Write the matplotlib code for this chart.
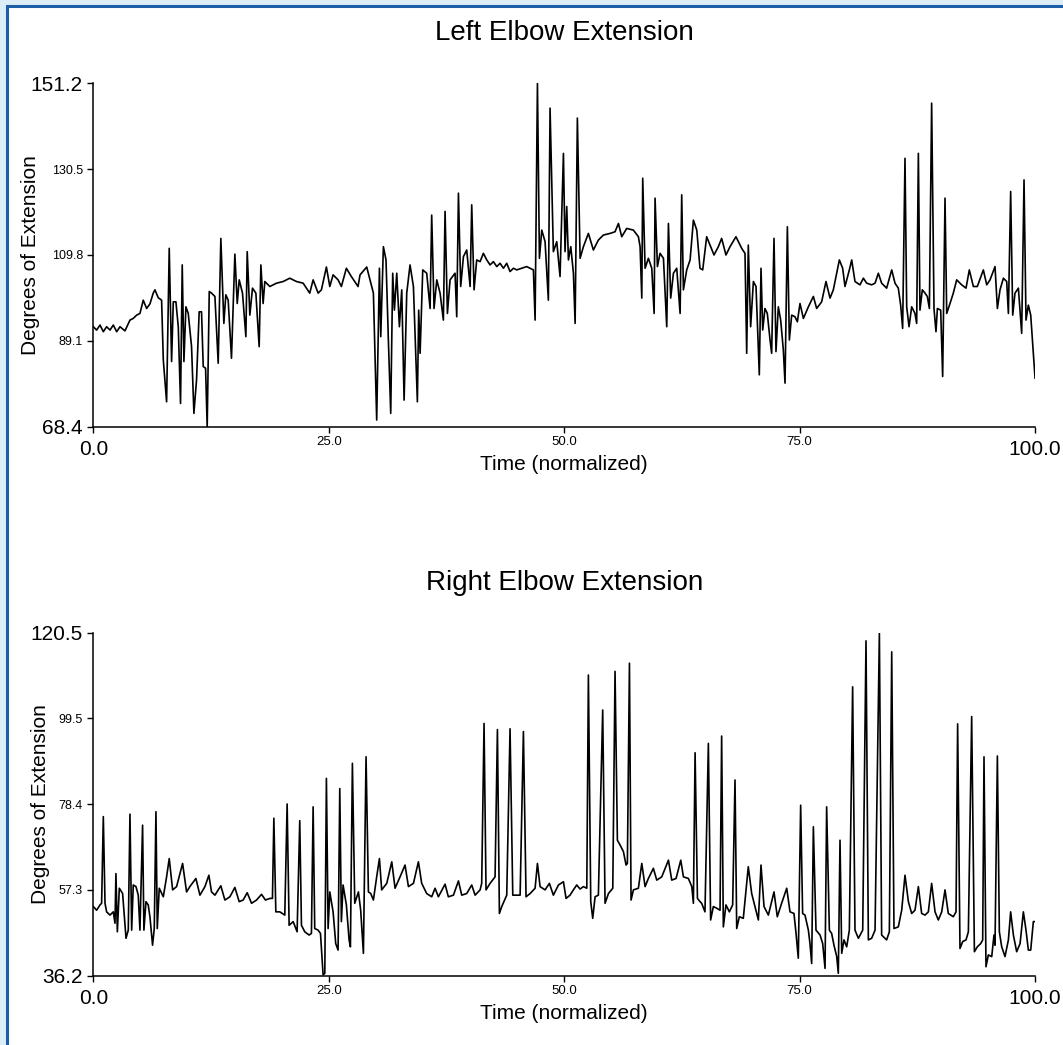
import matplotlib
matplotlib.use("Agg")
import matplotlib.pyplot as plt
from matplotlib.patches import Rectangle
from matplotlib.transforms import ScaledTranslation

plt.rcParams['font.family'] = ['Liberation Sans', 'DejaVu Sans']

# Left elbow: time (normalized) and degrees
left_t = [0, 0.35, 0.71, 1.06, 1.41, 1.77, 2.12, 2.48, 2.83, 3.36, 3.89, 4.24, 4.6, 4.95, 5.3, 5.66,
          6.01, 6.36, 6.54, 6.89, 7.25, 7.43, 7.78, 8.06, 8.31, 8.49, 8.77, 9.02, 9.26, 9.44, 9.62,
          9.83, 10.08, 10.43, 10.68, 10.96, 11.24, 11.49, 11.67, 11.92, 12.09, 12.31, 12.55, 12.91,
          13.26, 13.54, 13.86, 14.07, 14.32, 14.67, 15.03, 15.28, 15.49, 15.84, 16.2, 16.34, 16.62,
          16.9, 17.26, 17.61, 17.79, 18.03, 18.21, 18.74, 19.45, 20.16, 20.86, 21.57, 22.28, 22.98,
          23.34, 23.87, 24.22, 24.75, 25.11, 25.46, 25.99, 26.34, 26.87, 27.4, 28.11, 28.32, 29.03,
          29.56, 29.74, 30.09, 30.38, 30.52, 30.8, 31.08, 31.33, 31.58, 31.79, 31.97, 32.22, 32.5,
          32.75, 33.0, 33.28, 33.63, 33.99, 34.41, 34.55, 34.7, 34.98, 35.4, 35.76, 35.93, 36.18,
          36.47, 36.82, 37.17, 37.35, 37.6, 37.88, 38.41, 38.59, 38.77, 39.01, 39.3, 39.65, 40.01,
          40.18, 40.43, 40.71, 41.07, 41.42, 41.78, 42.13, 42.48, 42.84, 43.19, 43.55, 43.9, 44.25,
          44.61, 44.96, 45.49, 46.02, 46.73, 46.91, 47.16, 47.37, 47.62, 47.97, 48.32, 48.5, 48.85,
          49.21, 49.56, 49.92, 50.09, 50.27, 50.45, 50.7, 50.98, 51.16, 51.4, 51.69, 52.04, 52.57,
          53.1, 53.63, 54.16, 54.87, 55.4, 55.76, 56.11, 56.64, 57.35, 57.88, 58.06, 58.24, 58.34,
          58.59, 58.94, 59.3, 59.55, 59.65, 59.9, 60.18, 60.54, 60.89, 61.07, 61.31, 61.6, 61.95,
          62.31, 62.48, 62.66, 63.01, 63.37, 63.72, 64.08, 64.24, 64.42, 64.71, 65.13, 65.48, 65.91,
          66.37, 66.72, 67.18, 67.61, 68.24, 68.85, 69.2, 69.38, 69.55, 69.8, 70.09, 70.37, 70.72,
          70.9, 71.08, 71.32, 71.57, 71.86, 72.03, 72.28, 72.49, 72.74, 72.99, 73.27, 73.45, 73.7,
          73.91, 74.16, 74.51, 74.76, 75.04, 75.4, 75.93, 76.46, 76.81, 77.34, 77.8, 78.23, 78.58,
          79.22, 79.57, 79.82, 80.28, 80.53, 80.88, 81.41, 81.77, 82.12, 82.65, 83.01, 83.36, 83.71,
          84.24, 84.78, 85.13, 85.48, 85.73, 85.94, 86.19, 86.37, 86.62, 86.9, 87.25, 87.43, 87.61,
          87.78, 88.03, 88.32, 88.56, 88.78, 89.02, 89.27, 89.48, 89.63, 89.98, 90.19, 90.44, 90.62,
          90.97, 91.32, 91.68, 92.21, 92.67, 93.02, 93.45, 93.87, 94.51, 94.87, 95.22, 95.75, 96.0,
          96.28, 96.64, 96.99, 97.17, 97.41, 97.63, 97.87, 98.23, 98.58, 98.83, 99.04, 99.29, 99.54,
          99.82, 100.0]
left_deg = [92.5, 91.7, 92.9, 91.3, 92.5, 91.7, 92.9, 91.3, 92.5, 91.5, 94.1, 94.5, 95.3, 95.7, 98.9,
            96.9, 98.0, 100.6, 101.4, 99.5, 98.9, 84.5, 74.4, 111.4, 84.1, 98.5, 98.5, 92.5, 74.0,
            107.4, 84.1, 97.3, 95.7, 87.7, 71.6, 79.7, 96.1, 96.1, 82.9, 82.5, 68.4, 101.0, 100.6,
            99.8, 83.7, 113.8, 93.3, 100.2, 98.9, 84.9, 110.0, 98.1, 103.8, 100.6, 90.1, 110.6, 95.3,
            101.8, 100.6, 87.7, 107.4, 98.1, 103.4, 102.2, 103.0, 103.4, 104.2, 103.4, 103.0, 100.6,
            103.8, 100.6, 101.4, 106.9, 102.2, 105.0, 103.8, 102.2, 106.6, 104.6, 102.2, 105.0, 106.9,
            102.2, 100.6, 70.0, 106.6, 90.1, 111.8, 108.6, 89.3, 71.6, 105.4, 96.5, 105.4, 92.5,
            101.4, 74.8, 100.6, 107.4, 102.2, 74.4, 96.5, 86.1, 106.2, 105.4, 96.9, 119.4, 96.9,
            103.8, 100.6, 94.1, 120.3, 95.7, 103.8, 105.4, 94.9, 124.7, 102.2, 109.4, 111.0, 102.2,
            121.9, 101.4, 108.6, 108.2, 110.2, 108.6, 107.4, 108.2, 107.0, 107.8, 106.6, 107.8, 105.8,
            106.6, 106.2, 106.6, 107.0, 106.2, 94.1, 151.2, 109.0, 115.8, 113.0, 98.9, 145.2, 110.6,
            113.0, 104.6, 134.3, 110.6, 121.5, 108.6, 111.8, 105.4, 93.3, 142.8, 109.0, 111.8, 115.0,
            111.0, 113.4, 114.6, 115.0, 115.4, 117.4, 114.2, 116.2, 115.8, 114.2, 111.8, 99.4, 128.3,
            106.6, 109.0, 106.6, 95.7, 123.5, 107.0, 110.2, 109.0, 92.5, 117.4, 99.4, 105.4, 106.6,
            95.7, 124.3, 101.4, 106.2, 108.6, 118.2, 115.8, 111.4, 106.6, 106.2, 114.2, 112.2, 109.8,
            111.8, 113.8, 109.8, 111.8, 114.2, 111.4, 110.2, 86.1, 112.2, 92.5, 103.4, 102.2, 80.9,
            106.6, 91.7, 96.9, 95.7, 89.3, 86.1, 113.8, 86.5, 97.3, 94.1, 86.9, 78.9, 116.6,
            89.3, 95.3, 94.9, 93.7, 98.1, 94.5, 97.3, 99.8, 96.9, 98.5, 103.4, 99.4, 101.4,
            108.6, 106.6, 102.2, 106.2, 108.6, 103.4, 102.6, 104.2, 103.0, 102.6, 103.0, 105.4, 103.0,
            101.8, 106.2, 103.0, 101.8, 97.7, 92.1, 133.1, 97.3, 92.5, 97.3, 95.7, 93.3, 134.3,
            96.5, 101.4, 100.6, 99.8, 96.9, 146.4, 96.9, 91.3, 96.9, 96.5, 80.5, 123.5, 95.7,
            98.1, 100.6, 103.8, 102.6, 101.8, 106.2, 102.2, 102.2, 106.2, 102.6, 103.8, 107.0, 96.9,
            101.4, 104.2, 103.4, 95.7, 125.1, 95.3, 100.6, 101.8, 90.9, 127.9, 94.1, 97.7, 95.3,
            86.1, 80.1]

# Right elbow
right_t = [0, 0.35, 0.71, 0.88, 1.06, 1.24, 1.41, 1.77, 2.12, 2.3, 2.4, 2.55, 2.76, 3.11, 3.47, 3.71,
           3.89, 4.07, 4.24, 4.53, 4.77, 4.95, 5.23, 5.37, 5.59, 5.83, 6.01, 6.29, 6.47, 6.65, 6.79,
           7.0, 7.43, 7.78, 8.06, 8.42, 8.84, 9.48, 9.9, 10.25, 10.89, 11.32, 11.85, 12.27, 12.55,
           12.91, 13.54, 13.97, 14.5, 15.03, 15.49, 15.91, 16.34, 16.8, 17.33, 17.86, 18.28, 18.74,
           19.02, 19.17, 19.38, 19.8, 20.33, 20.58, 20.79, 21.22, 21.64, 21.92, 22.1, 22.45, 22.91,
           23.16, 23.34, 23.51, 23.87, 24.12, 24.4, 24.58, 24.75, 24.93, 25.11, 25.46, 25.74, 25.99,
           26.17, 26.34, 26.52, 26.87, 27.16, 27.3, 27.51, 27.76, 28.15, 28.39, 28.68, 28.96, 29.21,
           29.46, 29.74, 30.09, 30.38, 30.62, 31.16, 31.69, 32.04, 32.57, 33.1, 33.46, 33.99, 34.52,
           34.87, 35.4, 35.93, 36.29, 36.64, 37.35, 37.7, 38.24, 38.77, 39.12, 39.65, 40.18, 40.54,
           41.07, 41.24, 41.49, 41.7, 42.13, 42.66, 42.91, 43.12, 43.37, 43.9, 44.25, 44.54, 44.96,
           45.32, 45.67, 45.95, 46.38, 46.91, 47.16, 47.44, 47.97, 48.43, 48.85, 49.39, 49.92, 50.2,
           50.62, 50.98, 51.33, 51.69, 52.04, 52.4, 52.57, 52.82, 53.03, 53.28, 53.63, 54.09, 54.34,
           54.7, 55.16, 55.4, 55.65, 55.94, 56.29, 56.57, 56.71, 56.93, 57.1, 57.35, 57.88, 58.24,
           58.59, 58.94, 59.47, 59.83, 60.36, 61.07, 61.42, 61.88, 62.38, 62.66, 63.19, 63.55, 63.72,
           63.9, 64.15, 64.43, 64.6, 64.95, 65.31, 65.55, 65.84, 66.19, 66.55, 66.72, 66.9, 67.18,
           67.54, 67.89, 68.14, 68.32, 68.6, 69.02, 69.55, 69.91, 70.26, 70.62, 70.9, 71.22, 71.68,
           72.28, 72.63, 73.09, 73.63, 73.98, 74.4, 74.62, 74.86, 75.11, 75.32, 75.57, 75.93, 76.1,
           76.28, 76.46, 76.74, 77.17, 77.45, 77.7, 77.87, 78.16, 78.4, 78.65, 78.94, 79.11, 79.29,
           79.47, 79.71, 80.0, 80.28, 80.63, 80.88, 81.24, 81.7, 82.05, 82.3, 82.65, 83.01, 83.47,
           83.71, 84.24, 84.53, 84.78, 85.02, 85.48, 85.84, 86.19, 86.55, 86.9, 87.25, 87.61, 87.96,
           88.32, 88.67, 89.02, 89.38, 89.73, 90.09, 90.44, 90.79, 91.32, 91.61, 91.78, 92.03, 92.32,
           92.67, 92.92, 93.27, 93.56, 93.87, 94.23, 94.44, 94.58, 94.79, 95.04, 95.4, 95.64, 95.75,
           96.0, 96.21, 96.46, 96.81, 97.17, 97.41, 97.7, 98.05, 98.41, 98.76, 99.04, 99.29, 99.54,
           99.82, 100.0]
right_deg = [53.2, 52.3, 53.6, 54.0, 75.3, 54.0, 51.9, 51.1, 51.9, 49.1, 61.3, 47.0, 57.7, 56.4, 45.4,
             47.4, 75.9, 47.4, 58.5, 58.1, 56.0, 47.4, 73.2, 47.4, 54.4, 53.6, 50.7, 43.7, 47.8, 76.5,
             47.8, 57.7, 55.6, 60.5, 65.0, 57.3, 58.1, 63.8, 56.8, 58.1, 60.1, 56.0, 58.1, 60.9, 56.8,
             56.0, 58.3, 54.8, 55.6, 57.9, 54.4, 54.8, 56.6, 54.0, 54.8, 56.2, 54.8, 55.2,
             55.2, 74.9, 51.9, 51.9, 51.1, 78.4, 48.6, 49.5, 47.0, 74.3, 48.6, 47.0, 46.2,
             46.6, 77.7, 47.8, 47.4, 46.6, 36.4, 36.8, 84.7, 47.8, 56.8, 51.9, 44.1, 42.5,
             82.2, 49.5, 58.5, 53.6, 45.0, 43.3, 88.4, 54.0, 56.8, 52.3, 41.7, 90.0, 56.8,
             56.4, 54.8, 60.5, 65.0, 57.3, 58.9, 64.2, 57.7, 60.5, 63.4, 58.1, 58.9, 64.2,
             58.9, 56.4, 55.6, 57.7, 55.6, 58.7, 55.6, 56.0, 59.5, 56.0, 56.4, 58.5, 56.0,
             57.3, 58.9, 98.2, 57.3, 58.9, 60.5, 96.7, 51.5, 53.2, 56.0, 96.9, 56.0, 56.0,
             56.0, 96.2, 55.6, 56.4, 57.7, 63.8, 58.1, 57.3, 58.9, 56.0, 58.5, 59.3, 55.2,
             56.0, 57.3, 58.5, 57.5, 58.1, 57.7, 110.1, 54.4, 50.3, 55.6, 56.0, 101.5, 54.0,
             56.4, 57.7, 111.0, 69.5, 68.3, 66.7, 63.4, 63.8, 113.0, 54.8, 57.3, 57.7, 63.8,
             58.1, 60.1, 62.6, 59.7, 60.5, 64.6, 59.7, 60.1, 64.6, 60.5, 60.1, 58.1, 54.0,
             91.0, 55.2, 54.4, 54.0, 51.9, 93.3, 49.9, 53.2, 52.8, 52.3, 95.1, 48.2, 53.6,
             51.9, 53.6, 84.3, 47.8, 50.7, 50.3, 63.0, 56.4, 53.2, 49.9, 63.4, 53.2, 51.1,
             56.8, 50.7, 54.0, 57.7, 51.9, 51.5, 46.6, 40.5, 78.1, 51.5, 51.1, 47.4, 44.1,
             39.2, 72.8, 47.4, 46.2, 44.1, 38.0, 77.7, 47.4, 46.6, 43.7, 40.9, 36.8, 69.5,
             41.7, 45.0, 43.3, 47.4, 107.2, 47.4, 45.4, 47.4, 118.5, 45.0, 45.4, 47.4, 120.5,
             46.2, 45.0, 47.0, 115.8, 47.8, 48.2, 52.3, 60.9, 54.4, 51.5, 52.3, 58.1, 51.5,
             51.1, 51.9, 58.9, 51.9, 49.9, 51.9, 57.3, 51.5, 50.7, 51.9, 98.1, 42.9, 44.6,
             45.0, 47.0, 99.9, 42.1, 43.3, 44.1, 45.0, 90.0, 38.4, 41.3, 40.9, 46.2, 43.7,
             90.2, 47.0, 43.3, 40.9, 45.0, 51.9, 46.2, 42.1, 44.1, 51.9, 47.4, 42.5, 42.5,
             49.5, 49.5]

left_yticks = [68.4, 89.1, 109.8, 130.5, 151.2]
right_yticks = [36.2, 57.3, 78.4, 99.5, 120.5]
xticks = [0, 25, 50, 75, 100]
titles = ['Left Elbow Extension', 'Right Elbow Extension']

fig = plt.figure(figsize=(10.63, 10.45), dpi=100)
fig.patch.set_facecolor('#dcedf8')
fig.add_artist(Rectangle((0.0062, -0.1), 1.2, 0.9938 + 0.1, transform=fig.transFigure,
                         facecolor='white', edgecolor='#1d5fa6', linewidth=2.2, zorder=-1))

ax_top = fig.add_axes([0.0878, 0.5917, 0.8859, 0.3286])
ax_bot = fig.add_axes([0.0878, 0.0663, 0.8859, 0.3282])

def style_axes(ax, t, deg, yticks, title, ylab_x):
    ax.plot(t, deg, color='black', linewidth=1.2)
    ax.set_xlim(0, 100)
    ax.set_ylim(yticks[0], yticks[-1])
    ax.set_facecolor('none')
    for side in ['top', 'right']:
        ax.spines[side].set_visible(False)
    for side in ['left', 'bottom']:
        ax.spines[side].set_linewidth(1.1)
    ax.set_xticks(xticks)
    ax.set_xticklabels(['%.1f' % v for v in xticks])
    ax.set_yticks(yticks)
    ax.set_yticklabels(['%.1f' % v for v in yticks])
    ax.tick_params(axis='both', length=4.5, width=1.0, color='black')
    ax.tick_params(axis='x', labelsize=9.5, pad=2)
    ax.tick_params(axis='y', labelsize=9, pad=3)
    xl = ax.get_xticklabels()
    for lab in (xl[0], xl[-1]):
        lab.set_fontsize(15)
        lab.set_transform(lab.get_transform() + ScaledTranslation(0, -3 / 72, fig.dpi_scale_trans))
    yl = ax.get_yticklabels()
    for lab in (yl[0], yl[-1]):
        lab.set_fontsize(15)
    ax.set_xlabel('Time (normalized)', fontsize=15)
    ax.xaxis.set_label_coords(0.5, -38 / 343.4)
    ax.xaxis.label.set_va('center')
    ax.set_ylabel('Degrees of Extension', fontsize=15)
    ax.yaxis.set_label_coords(ylab_x, 0.5)
    ax.yaxis.label.set_va('center')
    ax.annotate(title, xy=(0.5, 1), xycoords='axes fraction', xytext=(0, 36),
                textcoords='offset points', ha='center', va='center', fontsize=20)

style_axes(ax_top, left_t, left_deg, left_yticks, titles[0], -63 / 941.7)
style_axes(ax_bot, right_t, right_deg, right_yticks, titles[1], -53 / 941.7)

fig.savefig('out.png', dpi=100)
